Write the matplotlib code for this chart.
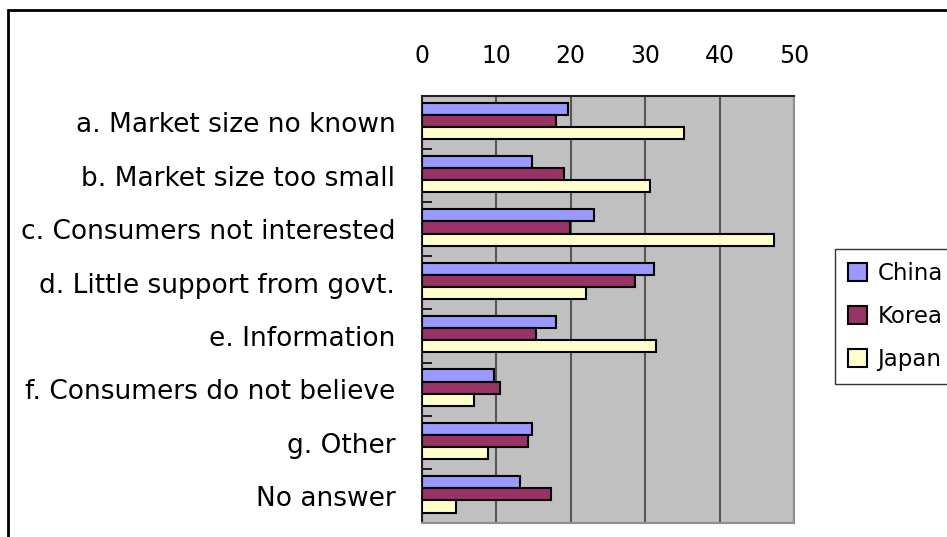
import matplotlib
matplotlib.use("Agg")
import matplotlib.pyplot as plt
import numpy as np
from matplotlib.patches import Rectangle

plt.rcParams['font.family'] = ['DejaVu Sans']

# データ
categories = ["a. Market size no known", "b. Market size too small",
              "c. Consumers not interested", "d. Little support from govt.",
              "e. Information", "f. Consumers do not believe",
              "g. Other", "No answer"]
china = [19.6, 14.8, 23.1, 31.2, 18.0, 9.7, 14.8, 13.2]
korea = [18.0, 19.1, 19.9, 28.6, 15.3, 10.5, 14.3, 17.3]
japan = [35.2, 30.7, 47.3, 22.1, 31.5, 7.0, 8.9, 4.6]
series_names = ["China", "Korea", "Japan"]
colors = ["#9999FF", "#993366", "#FFFFCC"]
xticks = [0, 10, 20, 30, 40, 50]

fig = plt.figure(figsize=(9.47, 5.37), dpi=100)
ax = fig.add_axes([0.4453, 0.0266, 0.3931, 0.7952])
ax.set_facecolor("#C0C0C0")

y = np.arange(len(categories))
h = 0.227
for k, (vals, name, c) in enumerate(zip([china, korea, japan], series_names, colors)):
    ax.barh(y + (k - 1) * h - 0.03, vals, height=h, color=c, edgecolor="black",
            linewidth=1.5, label=name, zorder=3)

ax.set_xlim(0, 50)
ax.set_ylim(len(categories) - 0.5, -0.5)
ax.xaxis.tick_top()
ax.set_xticks(xticks)
ax.tick_params(axis="x", length=0, pad=20, labelsize=17)
ax.grid(axis="x", color="#555555", linewidth=1.5, zorder=1)

ax.set_yticks(y)
ax.set_yticklabels(categories, fontsize=19)
ax.tick_params(axis="y", which="major", length=0, pad=19)
ax.set_yticks(np.arange(-0.5, len(categories)), minor=True)
ax.tick_params(axis="y", which="minor", direction="in", length=7.5, width=1.2)

ax.spines["top"].set_color("#222222")
ax.spines["left"].set_color("#222222")
ax.spines["right"].set_color("#909090")
ax.spines["bottom"].set_color("#909090")
for s in ax.spines.values():
    s.set_linewidth(1.5)

leg = fig.legend(loc="upper left", bbox_to_anchor=(835 / 947, 1 - 249 / 537),
                 fontsize=16.5, frameon=True, fancybox=False, handlelength=0.85,
                 handleheight=0.85, handletextpad=0.45, borderpad=0.55,
                 labelspacing=0.88, borderaxespad=0)
leg.get_frame().set_edgecolor("black")
leg.get_frame().set_linewidth(1)

# 外枠
fig.patches.append(Rectangle((8 / 947, -0.1), 1.1, 1 - 10 / 537 + 0.1,
                             transform=fig.transFigure, fill=False,
                             edgecolor="black", linewidth=2))

fig.savefig("out.png", dpi=100)
